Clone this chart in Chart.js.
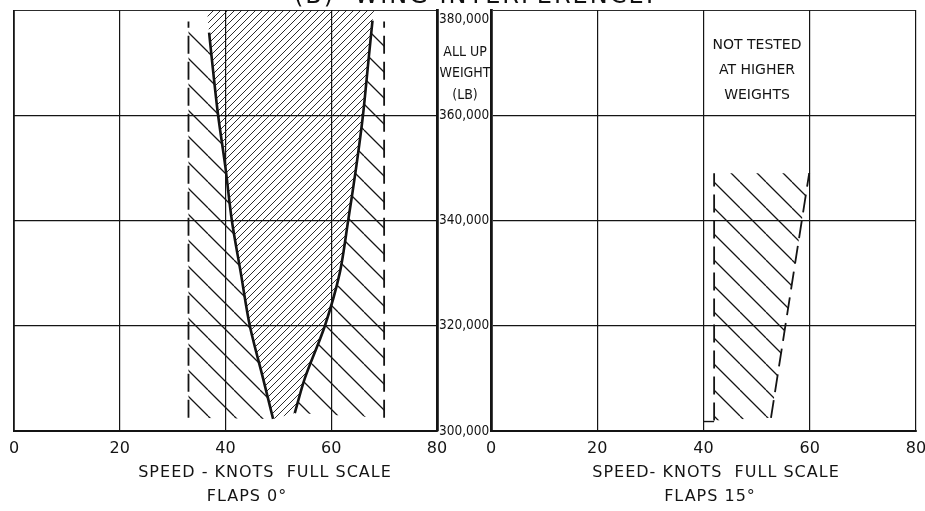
<!DOCTYPE html>
<html>
<head>
<meta charset="utf-8">
<script src="https://cdn.jsdelivr.net/npm/chart.js@4.4.1/dist/chart.umd.min.js"></script>
<style>
  html, body { margin: 0; padding: 0; background: #fff; overflow: hidden; }
  #wrap { position: relative; width: 925px; height: 511px; }
  #flaps0 { position: absolute; left: 0; top: 0; }
  #flaps15 { position: absolute; left: 480px; top: 0; }
  #heading {
    position: absolute; left: 294px; top: -17px;
    font: 24px 'DejaVu Sans', sans-serif; line-height: 24px;
    letter-spacing: 2px; white-space: pre; color: #111;
  }
</style>
</head>
<body>
<div id="wrap">
  <canvas id="flaps0" width="495" height="511"></canvas>
  <canvas id="flaps15" width="448" height="511"></canvas>
  <div id="heading">(B)  WING INTERFERENCE.</div>
</div>
<script>
// speed (knots, full scale) against all-up weight (lb)
const speedRange = [0, 80];
const weightRange = [300000, 380000];
const speedStep = 20;
const weightStep = 20000;

// flaps 0 deg: limiting speeds
const lowSpeed0 = [49.0, 47.1, 44.6, 42.9, 41.2, 40.0, 38.6, 37.7, 36.9];
const lowWeight0 = [302300, 310000, 320000, 330000, 340000, 350000, 360000, 368000, 375700];
const highSpeed0 = [53.1, 55.0, 58.8, 61.6, 63.2, 64.7, 66.0, 67.0, 67.8];
const highWeight0 = [303400, 310000, 320000, 330000, 340000, 350000, 360000, 370000, 378000];
// where the inner band meets the top of the grid
const innerTopSpeed0 = [36.5, 68.1];
const innerTopWeight0 = [380000, 380000];
// dashed edges of the tested speed range
const testedSpeed0 = [33, 70];
const testedWeight0 = [302500, 377800];

// flaps 15 deg: only tested up to about 349,000 lb
const lowSpeed15 = [42, 42];
const lowWeight15 = [302000, 349000];
const highSpeed15 = [52.7, 59.9];
const highWeight15 = [302500, 349000];
const startSpeed15 = [40, 42];
const startWeight15 = [301800, 301800];

const INK = '#141414';
const WIDE = "'DejaVu Sans', sans-serif";
const NARROW = "'DejaVu Sans Condensed', 'Liberation Sans Narrow', sans-serif";

function pts(xs, ys) {
  return xs.map((x, i) => ({ x, y: ys[i] }));
}

// diagonal hatching as a repeating canvas pattern
function hatch(step, back, width) {
  const c = document.createElement('canvas');
  c.width = c.height = step;
  const g = c.getContext('2d');
  g.strokeStyle = INK;
  g.lineWidth = width;
  g.beginPath();
  for (const o of [-step, 0, step]) {
    if (back) { g.moveTo(o, 0); g.lineTo(o + step, step); }
    else { g.moveTo(o, step); g.lineTo(o + step, 0); }
  }
  g.stroke();
  return g.createPattern(c, 'repeat');
}

const fineHatch = hatch(7, false, 0.9);
const coarseHatch = hatch(26, true, 1.3);

function region(data, pattern) {
  return { data, showLine: true, fill: 'shape', backgroundColor: pattern,
           borderWidth: 0, pointRadius: 0, tension: 0 };
}

function curve(data, opts) {
  return Object.assign({ data, showLine: true, fill: false, borderColor: INK,
                         borderWidth: 2.6, pointRadius: 0, tension: 0.3 }, opts);
}

function vline(speed, weights) {
  return curve(pts([speed, speed], weights), { borderWidth: 1.8, borderDash: [18, 8], tension: 0 });
}

// plain text drawn on top of the chart
function notes(items) {
  return {
    id: 'notes',
    afterDraw(chart) {
      const ctx = chart.ctx;
      ctx.save();
      ctx.fillStyle = INK;
      ctx.textAlign = 'center';
      ctx.textBaseline = 'middle';
      for (const n of items) {
        ctx.font = n.font;
        ctx.letterSpacing = n.spacing || '0px';
        ctx.fillText(n.text, n.x, n.y);
      }
      ctx.restore();
    }
  };
}

function axes(yPosition, showWeights) {
  return {
    x: {
      type: 'linear', position: 'bottom', min: speedRange[0], max: speedRange[1],
      ticks: { stepSize: speedStep, padding: 8, color: INK, maxRotation: 0,
               font: { family: WIDE, size: 16 }, callback: v => String(v) },
      grid: { color: INK, drawTicks: false,
              lineWidth: c => (c.tick && c.tick.value === 0 ? 1.8 : 1.2) },
      border: { color: INK, width: 2 },
      afterFit: s => { s.height = 80; s.paddingLeft = 0; s.paddingRight = 0; }
    },
    y: {
      type: 'linear', position: yPosition, min: weightRange[0], max: weightRange[1],
      ticks: {
        display: showWeights, stepSize: weightStep, padding: 2, color: INK,
        font: { family: NARROW, size: 13.5, lineHeight: 1.4 },
        callback: v => {
          const s = Number(v).toLocaleString('en-US');
          // the top figure sits just below its grid line
          return v === weightRange[1] ? ['', s] : s;
        }
      },
      grid: { color: INK, drawTicks: false,
              lineWidth: c => (c.tick && c.tick.value === weightRange[1] ? 0.9 : 1.2) },
      border: { color: INK, width: 2.8 },
      afterFit: s => { s.width = showWeights ? 58 : 0; s.paddingTop = 0; s.paddingBottom = 0; }
    }
  };
}

const common = {
  responsive: false,
  animation: false,
  devicePixelRatio: 1,
  events: [],
  plugins: { legend: { display: false }, tooltip: { enabled: false } }
};

const innerBand0 = pts(lowSpeed0, lowWeight0)
  .concat(pts(innerTopSpeed0, innerTopWeight0))
  .concat(pts(highSpeed0, highWeight0).reverse());
const lowerBand0 = pts([testedSpeed0[0], testedSpeed0[0]], testedWeight0)
  .concat(pts(lowSpeed0, lowWeight0).reverse());
const upperBand0 = pts(highSpeed0, highWeight0)
  .concat(pts([testedSpeed0[1], testedSpeed0[1]], testedWeight0).reverse());

new Chart(document.getElementById('flaps0'), {
  type: 'scatter',
  data: {
    datasets: [
      curve(pts(lowSpeed0, lowWeight0)),
      curve(pts(highSpeed0, highWeight0)),
      vline(testedSpeed0[0], testedWeight0),
      vline(testedSpeed0[1], testedWeight0),
      region(innerBand0, fineHatch),
      region(lowerBand0, coarseHatch),
      region(upperBand0, coarseHatch)
    ]
  },
  options: Object.assign({}, common, {
    layout: { padding: { left: 14, top: 10, right: 0, bottom: 0 } },
    scales: axes('right', true)
  }),
  plugins: [notes([
    { text: 'ALL UP', x: 465, y: 52, font: `14px ${NARROW}` },
    { text: 'WEIGHT', x: 465, y: 73, font: `14px ${NARROW}` },
    { text: '(LB)', x: 465, y: 95, font: `14px ${NARROW}` },
    { text: 'SPEED - KNOTS  FULL SCALE', x: 265, y: 473, font: `16px ${WIDE}`, spacing: '1px' },
    { text: 'FLAPS 0°', x: 247, y: 497, font: `16px ${WIDE}`, spacing: '1px' }
  ])]
});

const band15 = pts(lowSpeed15, lowWeight15).concat(pts(highSpeed15, highWeight15).reverse());

new Chart(document.getElementById('flaps15'), {
  type: 'scatter',
  data: {
    datasets: [
      vline(lowSpeed15[0], lowWeight15),
      curve(pts(highSpeed15, highWeight15), { borderWidth: 1.8, borderDash: [18, 8], tension: 0 }),
      curve(pts(startSpeed15, startWeight15), { borderWidth: 1.4, tension: 0 }),
      region(band15, coarseHatch)
    ]
  },
  options: Object.assign({}, common, {
    layout: { padding: { left: 11, top: 10, right: 12, bottom: 0 } },
    scales: axes('left', false)
  }),
  plugins: [notes([
    { text: 'NOT TESTED', x: 277, y: 45, font: `14px ${WIDE}` },
    { text: 'AT HIGHER', x: 277, y: 70, font: `14px ${WIDE}` },
    { text: 'WEIGHTS', x: 277, y: 95, font: `14px ${WIDE}` },
    { text: 'SPEED- KNOTS  FULL SCALE', x: 236, y: 473, font: `16px ${WIDE}`, spacing: '1px' },
    { text: 'FLAPS 15°', x: 230, y: 497, font: `16px ${WIDE}`, spacing: '1px' }
  ])]
});
</script>
</body>
</html>
